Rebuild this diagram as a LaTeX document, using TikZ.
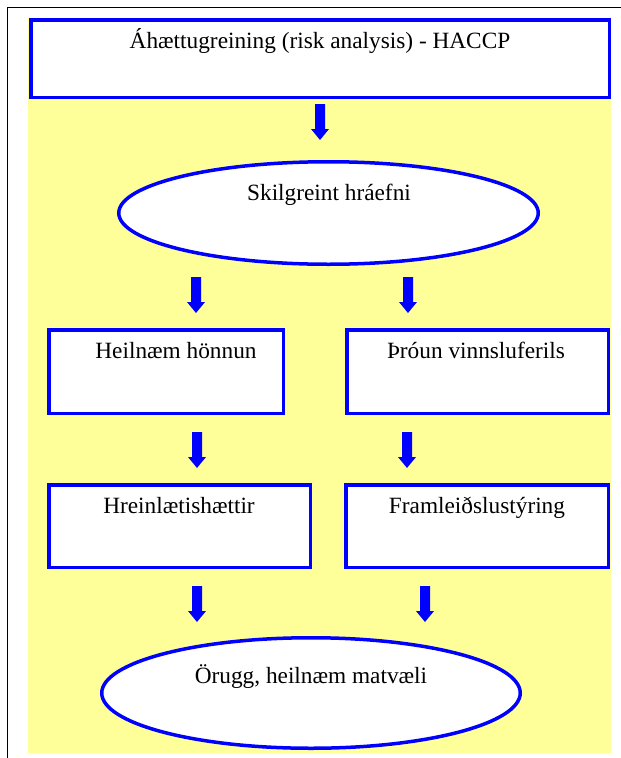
\documentclass[tikz,border=0pt]{standalone}
\usepackage{fontspec}
\setmainfont{Liberation Serif}
\usetikzlibrary{shapes.geometric}
\definecolor{bgyellow}{RGB}{255,255,153}
\definecolor{fblue}{RGB}{0,0,255}
\begin{document}
\begin{tikzpicture}[x=1pt,y=-1pt,
  box/.style={draw=fblue,fill=white,line width=3.5pt,rectangle,inner sep=0pt},
  oval/.style={draw=fblue,fill=white,line width=3.5pt,ellipse,inner sep=0pt},
  lbl/.style={anchor=base,inner sep=0pt,font=\fontsize{23.3}{28}\selectfont},
  downarr/.pic={\fill[fblue] (-5,0) -- (5,0) -- (5,25) -- (9,25) -- (0,36) -- (-9,25) -- (-5,25) -- cycle;}
]
\useasboundingbox (0,0) rectangle (621,758);
\fill[bgyellow] (28,18) rectangle (611,752.5);
\draw[line width=1.8pt] (7.5,758) -- (7.5,7.5) -- (621,7.5);

\node[box,minimum width=578.5pt,minimum height=77.5pt] (top) at (320,58.5) {};
\node[lbl] (ttop) at (320,48) {Áhættugreining (risk analysis) - HACCP};

\node[oval,minimum width=419.5pt,minimum height=102.5pt] (e1) at (328.5,213) {};
\node[lbl] (te1) at (329,200) {Skilgreint hráefni};

\node[box,minimum width=234.5pt,minimum height=83.5pt] (b2l) at (166,371.5) {};
\node[lbl] (tb2l) at (176,358) {Heilnæm hönnun};
\node[box,minimum width=261.5pt,minimum height=83.5pt] (b2r) at (477.5,371.5) {};
\node[lbl] (tb2r) at (476,358) {Þróun vinnsluferils};

\node[box,minimum width=261.5pt,minimum height=82.5pt] (b3l) at (179.5,526) {};
\node[lbl] (tb3l) at (179,513) {Hreinlætishættir};
\node[box,minimum width=262.5pt,minimum height=82.5pt] (b3r) at (477,526) {};
\node[lbl] (tb3r) at (477,513) {Framleiðslustýring};

\node[oval,minimum width=418.5pt,minimum height=110.5pt] (e2) at (311,693) {};
\node[lbl] (te2) at (311,683) {Örugg, heilnæm matvæli};

\pic at (320,104) {downarr};
\pic at (196,277) {downarr};
\pic at (408,277) {downarr};
\pic at (197,432) {downarr};
\pic at (407,432) {downarr};
\pic at (197,586) {downarr};
\pic at (425,586) {downarr};
\end{tikzpicture}
\end{document}
